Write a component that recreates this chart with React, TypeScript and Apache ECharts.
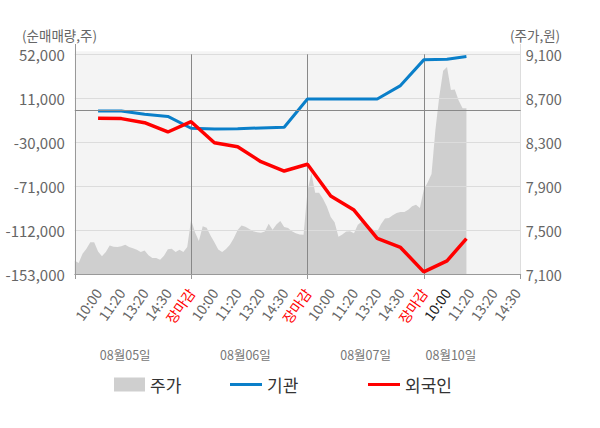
import React, { useEffect, useRef } from "react";
import * as echarts from "echarts";

// ---- data ----
const leftTicks = [-153000, -112000, -71000, -30000, 11000, 52000];
const rightTicks = [7100, 7500, 7900, 8300, 8700, 9100];
const slotLabels = [
  "", "10:00", "11:20", "13:20", "14:30", "장마감",
  "10:00", "11:20", "13:20", "14:30", "장마감",
  "10:00", "11:20", "13:20", "14:30", "장마감",
  "10:00", "11:20", "13:20", "14:30",
];
const POINTS_PER_SLOT = 6;
const EXTRA_POINTS = 1; // axis runs one step past the last 14:30 label
const dayLabels = ["08월05일", "08월06일", "08월07일", "08월10일"];
const dayLabelIdx = [13, 44, 75, 97];
const dayBoundaryIdx = [30, 60, 90];
const currentIdx = 96;

// 주가 (price), one value per 1/6 slot
const priceDay1 = [7220, 7200, 7285, 7330, 7390, 7390, 7305, 7262, 7300, 7360, 7348, 7345, 7352, 7366, 7345, 7335, 7320, 7300, 7315, 7270, 7245, 7245, 7230, 7266, 7325, 7330, 7300, 7320, 7300, 7345];
const priceDay2 = [7594, 7480, 7400, 7535, 7520, 7451, 7390, 7322, 7300, 7327, 7366, 7425, 7500, 7542, 7530, 7510, 7490, 7479, 7475, 7488, 7557, 7503, 7550, 7582, 7527, 7518, 7490, 7470, 7460, 7457];
const priceDay3 = [7850, 8020, 7840, 7840, 7785, 7714, 7620, 7570, 7440, 7460, 7486, 7490, 7470, 7549, 7575, 7564, 7530, 7503, 7488, 7555, 7605, 7609, 7635, 7655, 7665, 7665, 7685, 7716, 7730, 7700];
const priceDay4 = [7868, 7932, 8010, 8410, 8716, 8950, 8985, 8776, 8780, 8680, 8609, 8610];

// net buying points (기관 / 외국인)
const lineIdx = [6, 12, 18, 24, 30, 36, 42, 48, 54, 60, 66, 72, 78, 84, 90, 96, 101];
const inst = [-1000, -1000, -4000, -6000, -17000, -17700, -17500, -16700, -16100, 10300, 10300, 10300, 10300, 22800, 46800, 47400, 49900];
const foreign = [-7700, -8000, -11800, -20500, -10900, -30500, -34200, -48200, -56900, -50600, -80300, -93300, -119800, -128200, -151000, -140700, -120000];

const FONT = "'Noto Sans CJK KR', 'Noto Sans', sans-serif";

function comma(n: number): string {
  const s = Math.abs(n).toString().replace(/\B(?=(\d{3})+(?!\d))/g, ",");
  return (n < 0 ? "-" : "") + s;
}

export default function App() {
  const ref = useRef<HTMLDivElement>(null);

  useEffect(() => {
    if (!ref.current) return;
    const chart = echarts.init(ref.current, undefined, { renderer: "svg" });
    const nCat = (slotLabels.length - 1) * POINTS_PER_SLOT + 1 + EXTRA_POINTS;
    const cats = Array.from({ length: nCat }, (_, i) => String(i));
    const price = [...priceDay1, ...priceDay2, ...priceDay3, ...priceDay4];
    const lastIdx = nCat - 1;

    const gl = 74.8;
    const gr = 520.7;
    const gt = 54.3;
    const gb = 274;
    const legendText = { fontSize: 17, color: "#333", fontFamily: FONT };

    chart.setOption({
      animation: false,
      textStyle: { fontFamily: FONT },
      grid: {
        left: gl,
        right: 600 - gr,
        top: gt,
        bottom: 428 - gb,
        show: true,
        backgroundColor: "#f4f4f4",
        borderWidth: 0,
      },
      legend: [
        { data: ["주가"], left: 109, top: 371, icon: "rect", itemWidth: 31, itemHeight: 14, selectedMode: false, textStyle: legendText },
        { data: ["기관"], left: 225, top: 371, icon: "rect", itemWidth: 32, itemHeight: 3, selectedMode: false, textStyle: legendText },
        { data: ["외국인"], left: 363, top: 371, icon: "rect", itemWidth: 32, itemHeight: 3, selectedMode: false, textStyle: legendText },
      ],
      graphic: [
        { type: "rect", silent: true, z: 0, shape: { x: gl, y: 51.3, width: gr - gl, height: 3.2 }, style: { fill: "#f4f4f4" } },
        { type: "line", silent: true, shape: { x1: 75.5, y1: 44, x2: 75.5, y2: 55 }, style: { stroke: "#999", lineWidth: 1 } },
        { type: "line", silent: true, shape: { x1: 520.5, y1: 44, x2: 520.5, y2: 55 }, style: { stroke: "#ddd", lineWidth: 1 } },
        {
          type: "text", x: 22, y: 35, silent: true,
          style: { text: "(순매매량,주)", fontSize: 13.5, fill: "#666", fontFamily: FONT, textVerticalAlign: "middle" },
        },
        {
          type: "text", x: 510, y: 35, silent: true,
          style: { text: "(주가,원)", fontSize: 13.5, fill: "#666", fontFamily: FONT, textVerticalAlign: "middle" },
        },
      ],
      xAxis: [
        {
          type: "category",
          data: cats,
          boundaryGap: false,
          z: 2,
          axisLine: { show: true, lineStyle: { color: "#999" } },
          axisTick: {
            show: true,
            length: 5,
            interval: (i: number) => i % 30 === 0 || i === lastIdx,
            lineStyle: { color: "#999" },
          },
          splitLine: {
            show: true,
            interval: (i: number) => dayBoundaryIdx.includes(i),
            lineStyle: { color: "#888", width: 1 },
          },
          axisLabel: {
            interval: (i: number) => i > 0 && i % POINTS_PER_SLOT === 0 && i / POINTS_PER_SLOT < slotLabels.length,
            rotate: 55,
            margin: 16,
            fontSize: 14,
            color: "#666",
            fontFamily: FONT,
            formatter: (v: string) => {
              const i = Number(v);
              if (i % POINTS_PER_SLOT !== 0) return "";
              const t = slotLabels[i / POINTS_PER_SLOT] || "";
              if (t === "장마감") return "{r|" + t + "}";
              if (i === currentIdx) return "{d|" + t + "}";
              return t;
            },
            rich: {
              r: { color: "#ff0000", fontSize: 14, fontFamily: FONT },
              d: { color: "#222", fontSize: 14, fontFamily: FONT },
            },
          },
        },
        {
          type: "category",
          data: cats,
          boundaryGap: false,
          position: "bottom",
          offset: 66,
          axisLine: { show: false },
          axisTick: { show: false },
          splitLine: { show: false },
          axisLabel: {
            interval: (i: number) => dayLabelIdx.includes(i),
            margin: 8,
            fontSize: 12.5,
            color: "#777",
            fontFamily: FONT,
            formatter: (v: string) => {
              const k = dayLabelIdx.indexOf(Number(v));
              return k >= 0 ? dayLabels[k] : "";
            },
          },
        },
      ],
      yAxis: [
        {
          type: "value",
          position: "left",
          min: 0,
          max: leftTicks.length - 1,
          interval: 1,
          z: 2,
          axisLine: { show: true, lineStyle: { color: "#999" } },
          axisTick: { show: false },
          splitLine: { show: true, lineStyle: { color: "#dcdcdc" } },
          axisLabel: {
            margin: 10,
            fontSize: 15,
            color: "#666",
            fontFamily: FONT,
            formatter: (v: number) => comma(leftTicks[Math.round(v)]),
          },
        },
        {
          type: "value",
          position: "right",
          min: 0,
          max: rightTicks.length - 1,
          interval: 1,
          z: 2,
          axisLine: { show: true, lineStyle: { color: "#ddd" } },
          axisTick: { show: false },
          splitLine: { show: false },
          axisLabel: {
            margin: 5,
            fontSize: 14.5,
            color: "#666",
            fontFamily: FONT,
            formatter: (v: number) => comma(rightTicks[Math.round(v)]),
          },
        },
        { type: "value", show: false, min: leftTicks[0], max: leftTicks[leftTicks.length - 1] },
        { type: "value", show: false, min: rightTicks[0], max: rightTicks[rightTicks.length - 1] },
      ],
      series: [
        {
          name: "주가",
          type: "line",
          xAxisIndex: 0,
          yAxisIndex: 3,
          data: price,
          color: "#cfcfcf",
          symbol: "none",
          showSymbol: false,
          silent: true,
          z: 1,
          lineStyle: { width: 0, color: "#cfcfcf" },
          areaStyle: { color: "#cfcfcf", opacity: 1, origin: "start" },
        },
        {
          name: "기관",
          type: "line",
          xAxisIndex: 0,
          yAxisIndex: 2,
          data: lineIdx.map((x, k) => [x, inst[k]]),
          color: "#0a7fc9",
          symbol: "none",
          showSymbol: false,
          silent: true,
          z: 3,
          lineStyle: { width: 3, color: "#0a7fc9" },
          markLine: {
            silent: true,
            symbol: ["none", "none"],
            label: { show: false },
            lineStyle: { color: "#888", type: "solid", width: 1 },
            data: [{ yAxis: 0 }],
          },
        },
        {
          name: "외국인",
          type: "line",
          xAxisIndex: 0,
          yAxisIndex: 2,
          data: lineIdx.map((x, k) => [x, foreign[k]]),
          color: "#ff0000",
          symbol: "none",
          showSymbol: false,
          silent: true,
          z: 4,
          lineStyle: { width: 3.5, color: "#ff0000" },
        },
      ],
    });

    return () => {
      chart.dispose();
    };
  }, []);

  return (
    <div
      ref={ref}
      style={{ position: "fixed", left: 0, top: 0, width: 600, height: 428, background: "#fff" }}
    />
  );
}
